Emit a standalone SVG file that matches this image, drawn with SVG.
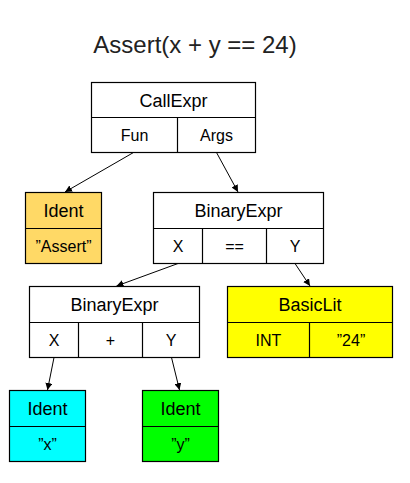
<svg xmlns="http://www.w3.org/2000/svg" width="410" height="483" viewBox="0 0 410 483">
<style>
.box{stroke:#000;stroke-width:1.2}
.ln{stroke:#000;stroke-width:1.2;fill:none}
.h{font-family:"Liberation Sans",Arial,sans-serif;font-size:18px;fill:#000;text-anchor:middle}
.s{font-family:"Liberation Sans",Arial,sans-serif;font-size:16px;fill:#000;text-anchor:middle}
.c{stroke:#000;stroke-width:1;fill:none;marker-end:url(#ah)}
</style>
<defs>
<marker id="ah" viewBox="0 0 10 10" refX="10" refY="5" markerWidth="7" markerHeight="7" markerUnits="userSpaceOnUse" orient="auto">
<path d="M0,0 L10,5 L0,10 z" fill="#000"/>
</marker>
</defs>
<rect width="410" height="483" fill="#fff"/>
<text x="195" y="53" font-family="Liberation Sans,Arial,sans-serif" font-size="24" fill="#222" text-anchor="middle">Assert(x + y == 24)</text>

<g id="callexpr">
<rect class="box" x="91.5" y="82.5" width="164" height="70" fill="#fff"/>
<line class="ln" x1="91.5" y1="117.5" x2="255.5" y2="117.5"/>
<line class="ln" x1="177.5" y1="117.5" x2="177.5" y2="152.5"/>
<text class="h" x="173.5" y="106.5">CallExpr</text>
<text class="s" x="134.5" y="141">Fun</text>
<text class="s" x="216.5" y="141">Args</text>
</g>

<g id="ident-assert">
<rect class="box" x="25.5" y="192.5" width="76" height="71" fill="#ffd966"/>
<line class="ln" x1="25.5" y1="228.5" x2="101.5" y2="228.5"/>
<text class="h" x="63.5" y="217">Ident</text>
<text class="s" x="63.5" y="251.5">”Assert”</text>
</g>

<g id="binaryexpr-eq">
<rect class="box" x="153.5" y="192.5" width="170" height="71" fill="#fff"/>
<line class="ln" x1="153.5" y1="228.5" x2="323.5" y2="228.5"/>
<line class="ln" x1="202.5" y1="228.5" x2="202.5" y2="263.5"/>
<line class="ln" x1="266.5" y1="228.5" x2="266.5" y2="263.5"/>
<text class="h" x="238.5" y="217">BinaryExpr</text>
<text class="s" x="178" y="251.5">X</text>
<text class="s" x="234.5" y="251.5">==</text>
<text class="s" x="295" y="251.5">Y</text>
</g>

<g id="binaryexpr-plus">
<rect class="box" x="29.5" y="286.5" width="170" height="71" fill="#fff"/>
<line class="ln" x1="29.5" y1="322.5" x2="199.5" y2="322.5"/>
<line class="ln" x1="78.5" y1="322.5" x2="78.5" y2="357.5"/>
<line class="ln" x1="142.5" y1="322.5" x2="142.5" y2="357.5"/>
<text class="h" x="114.5" y="311">BinaryExpr</text>
<text class="s" x="54" y="345.5">X</text>
<text class="s" x="110.5" y="345.5">+</text>
<text class="s" x="171" y="345.5">Y</text>
</g>

<g id="basiclit">
<rect class="box" x="227.5" y="286.5" width="165" height="71" fill="#ffff00"/>
<line class="ln" x1="227.5" y1="322.5" x2="392.5" y2="322.5"/>
<line class="ln" x1="309.5" y1="322.5" x2="309.5" y2="357.5"/>
<text class="h" x="310" y="311">BasicLit</text>
<text class="s" x="268.5" y="345.5">INT</text>
<text class="s" x="351" y="345.5">”24”</text>
</g>

<g id="ident-x">
<rect class="box" x="9.5" y="390.5" width="76" height="71" fill="#00ffff"/>
<line class="ln" x1="9.5" y1="426.5" x2="85.5" y2="426.5"/>
<text class="h" x="47.5" y="415">Ident</text>
<text class="s" x="47.5" y="449.5">”x”</text>
</g>

<g id="ident-y">
<rect class="box" x="142.5" y="390.5" width="76" height="71" fill="#00ff00"/>
<line class="ln" x1="142.5" y1="426.5" x2="218.5" y2="426.5"/>
<text class="h" x="180.5" y="415">Ident</text>
<text class="s" x="180.5" y="449.5">”y”</text>
</g>

<g id="connectors">
<line class="c" x1="133.5" y1="152.5" x2="65" y2="192"/>
<line class="c" x1="216.5" y1="152.5" x2="238" y2="192"/>
<line class="c" x1="178" y1="263.5" x2="116.5" y2="286"/>
<line class="c" x1="295" y1="263.5" x2="310" y2="286"/>
<line class="c" x1="54" y1="357.5" x2="47.5" y2="390"/>
<line class="c" x1="171.5" y1="357.5" x2="179.5" y2="390"/>
</g>
</svg>
